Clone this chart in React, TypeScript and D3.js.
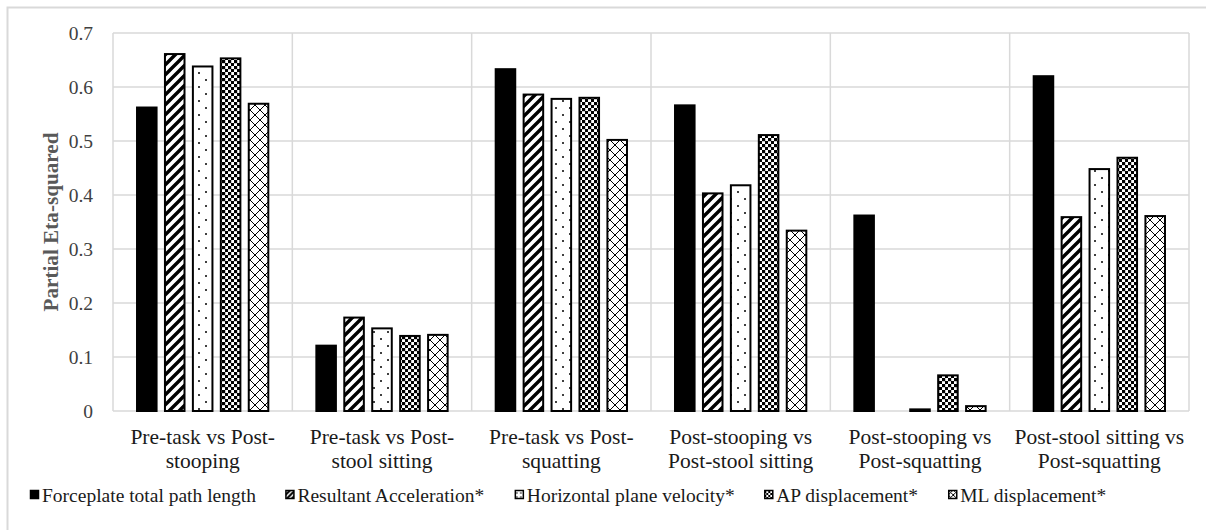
import React from "react";
import * as d3 from "d3";

const categories: string[][] = [
  ["Pre-task vs Post-", "stooping"],
  ["Pre-task vs Post-", "stool sitting"],
  ["Pre-task vs Post-", "squatting"],
  ["Post-stooping vs", "Post-stool sitting"],
  ["Post-stooping vs", "Post-squatting"],
  ["Post-stool sitting vs", "Post-squatting"],
];

const seriesNames = [
  "Forceplate total path length",
  "Resultant Acceleration*",
  "Horizontal plane velocity*",
  "AP displacement*",
  "ML displacement*",
];

const forceplate = [0.562, 0.121, 0.633, 0.566, 0.362, 0.62];
const resultantAcc = [0.661, 0.173, 0.586, 0.403, 0.0, 0.359];
const horizVelocity = [0.638, 0.153, 0.578, 0.418, 0.003, 0.448];
const apDisp = [0.653, 0.139, 0.58, 0.511, 0.066, 0.469];
const mlDisp = [0.569, 0.141, 0.502, 0.334, 0.009, 0.361];

const seriesValues = [forceplate, resultantAcc, horizVelocity, apDisp, mlDisp];
const yTicks = [0, 0.1, 0.2, 0.3, 0.4, 0.5, 0.6, 0.7];
const fills = ["#000", "url(#pHatch)", "url(#pDots)", "url(#pCheck)", "url(#pCross)"];
const legendFills = ["#000", "url(#lHatch)", "url(#lDots)", "url(#lCheck)", "url(#lCross)"];

const W = 1206;
const H = 530;
const M = { left: 113, right: 1189, top: 33, bottom: 411 };
const FONT = "'Liberation Serif', 'Times New Roman', serif";
const LEG_FS = 19.5;
const LEG_START = 30;
const LEG_END = 1107;
const LEG_SW = 12;

function measure(texts: string[], size: number): number[] {
  const c = document.createElement("canvas").getContext("2d");
  if (!c) return texts.map((t) => t.length * size * 0.42);
  c.font = `${size}px 'Liberation Serif'`;
  return texts.map((t) => c.measureText(t).width);
}

export default function App() {
  const x0 = d3
    .scaleBand<number>()
    .domain(categories.map((_, i) => i))
    .range([M.left, M.right])
    .padding(0);
  const x1 = d3
    .scaleBand<number>()
    .domain(seriesNames.map((_, i) => i))
    .range([0, x0.bandwidth()])
    .paddingInner(0.3)
    .paddingOuter(0.86);
  const y = d3.scaleLinear().domain([0, 0.7]).range([M.bottom, M.top]);
  const fmt = (v: number) => (v === 0 ? "0" : d3.format(".1f")(v));

  const widths = measure(seriesNames, LEG_FS);
  const total = d3.sum(widths) + seriesNames.length * LEG_SW;
  const gap = (LEG_END - LEG_START - total) / (seriesNames.length - 1);
  const legendX: number[] = [];
  let cur = LEG_START;
  widths.forEach((w) => {
    legendX.push(cur);
    cur += LEG_SW + w + gap;
  });

  return (
    <svg
      width={W}
      height={H}
      style={{ position: "absolute", left: 0, top: 0, background: "#fff" }}
      fontFamily={FONT}
    >
      <defs>
        <pattern id="pHatch" patternUnits="userSpaceOnUse" width={10} height={10}>
          <rect width={10} height={10} fill="#fff" />
          <path d="M-3,3 L3,-3 M0,10 L10,0 M7,13 L13,7" stroke="#000" strokeWidth={3.4} />
        </pattern>
        <pattern id="pDots" patternUnits="userSpaceOnUse" width={14} height={14}>
          <rect width={14} height={14} fill="#fff" />
          <circle cx={3} cy={3} r={1} fill="#000" />
          <circle cx={10} cy={10} r={1} fill="#000" />
        </pattern>
        <pattern id="pCheck" patternUnits="userSpaceOnUse" width={6} height={6}>
          <rect width={6} height={6} fill="#fff" />
          <rect x={0} y={0} width={3.2} height={3.2} fill="#000" />
          <rect x={3} y={3} width={3.2} height={3.2} fill="#000" />
        </pattern>
        <pattern id="pCross" patternUnits="userSpaceOnUse" width={10} height={10}>
          <rect width={10} height={10} fill="#fff" />
          <path d="M0,0 L10,10 M10,0 L0,10" stroke="#000" strokeWidth={1} />
        </pattern>
        <pattern id="lHatch" patternUnits="userSpaceOnUse" width={5} height={5}>
          <rect width={5} height={5} fill="#fff" />
          <path d="M-1,1 L1,-1 M0,5 L5,0 M4,6 L6,4" stroke="#000" strokeWidth={2} />
        </pattern>
        <pattern id="lDots" patternUnits="userSpaceOnUse" width={4} height={4}>
          <rect width={4} height={4} fill="#fff" />
          <circle cx={2} cy={2} r={0.8} fill="#000" />
        </pattern>
        <pattern id="lCheck" patternUnits="userSpaceOnUse" width={4} height={4}>
          <rect width={4} height={4} fill="#fff" />
          <rect width={2} height={2} fill="#000" />
          <rect x={2} y={2} width={2} height={2} fill="#000" />
        </pattern>
        <pattern id="lCross" patternUnits="userSpaceOnUse" width={5} height={5}>
          <rect width={5} height={5} fill="#fff" />
          <path d="M0,0 L5,5 M5,0 L0,5" stroke="#000" strokeWidth={1} />
        </pattern>
      </defs>

      {/* outer frame */}
      <rect x={7.5} y={7.5} width={1210} height={540} fill="none" stroke="#d9d9d9" strokeWidth={2} />

      {/* gridlines */}
      {yTicks.map((t) => (
        <line
          key={"g" + t}
          x1={M.left}
          x2={M.right}
          y1={y(t)}
          y2={y(t)}
          stroke="#d9d9d9"
          strokeWidth={1.5}
        />
      ))}
      {/* category separators */}
      {d3.range(categories.length + 1).map((i) => {
        const xx = i < categories.length ? (x0(i) as number) : M.right;
        return (
          <line key={"s" + i} x1={xx} x2={xx} y1={M.top} y2={M.bottom} stroke="#d9d9d9" strokeWidth={1.5} />
        );
      })}

      {/* bars */}
      {categories.map((_, ci) =>
        seriesValues.map((vals, si) => {
          const v = vals[ci];
          if (v <= 0) return null;
          const bx = (x0(ci) as number) + (x1(si) as number);
          const by = y(v);
          return (
            <rect
              key={ci + "-" + si}
              x={bx}
              y={by}
              width={x1.bandwidth()}
              height={y(0) - by}
              fill={fills[si]}
              stroke="#000"
              strokeWidth={2}
            />
          );
        })
      )}

      {/* y tick labels */}
      {yTicks.map((t) => (
        <text
          key={"t" + t}
          x={93}
          y={y(t)}
          dy="0.35em"
          textAnchor="end"
          fontSize={19.5}
          fill="#404040"
        >
          {fmt(t)}
        </text>
      ))}

      {/* y axis title */}
      <text
        transform={`translate(58,${(M.top + M.bottom) / 2}) rotate(-90)`}
        textAnchor="middle"
        fontSize={20}
        fontWeight="bold"
        fill="#595959"
        textLength={179}
        lengthAdjust="spacingAndGlyphs"
      >
        Partial Eta-squared
      </text>

      {/* category labels */}
      {categories.map((lines, ci) => (
        <text
          key={"c" + ci}
          x={(x0(ci) as number) + x0.bandwidth() / 2}
          y={444}
          textAnchor="middle"
          fontSize={21.5}
          fill="#1a1a1a"
        >
          {lines.map((ln, li) => (
            <tspan key={li} x={(x0(ci) as number) + x0.bandwidth() / 2} dy={li === 0 ? 0 : 24}>
              {ln}
            </tspan>
          ))}
        </text>
      ))}

      {/* legend */}
      {seriesNames.map((name, si) => (
        <g key={"l" + si} transform={`translate(${legendX[si]},495)`}>
          <rect x={0.5} y={-4.5} width={8} height={8} fill={legendFills[si]} stroke="#000" strokeWidth={1.5} />
          <text x={LEG_SW} y={0} dy="0.35em" fontSize={LEG_FS} fill="#1a1a1a">
            {name}
          </text>
        </g>
      ))}
    </svg>
  );
}
